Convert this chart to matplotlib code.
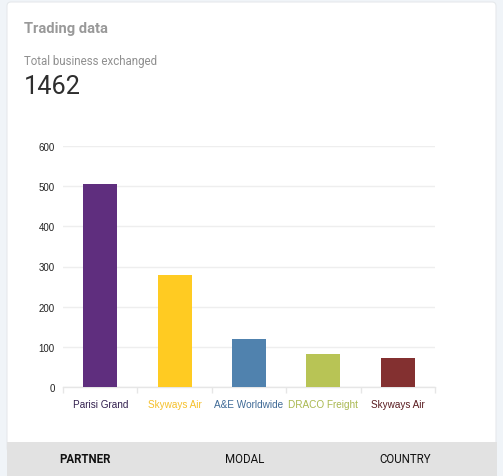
import matplotlib
matplotlib.use('Agg')
import matplotlib.pyplot as plt
from matplotlib.patches import FancyBboxPatch, Rectangle

plt.rcParams['font.family'] = ['Roboto', 'DejaVu Sans']

W, H = 503, 477

# data
partners = ['Parisi Grand', 'Skyways Air', 'A&E Worldwide', 'DRACO Freight', 'Skyways Air']
trades = [505, 280, 120, 83, 71]
bar_colors = ['#5f2e7e', '#ffcb22', '#5082ae', '#b8c455', '#833030']
label_colors = ['#33204f', '#f5c02a', '#3f6a96', '#a9b84f', '#5a1c20']
yticks = [0, 100, 200, 300, 400, 500, 600]
tabs = ['PARTNER', 'MODAL', 'COUNTRY']
tab_x = [85, 245, 405]

fig = plt.figure(figsize=(W / 100, H / 100), dpi=100, facecolor='#f0f4f8')

# page layer in pixel coords
bg = fig.add_axes([0, 0, 1, 1])
bg.set_xlim(0, W)
bg.set_ylim(H, 0)
bg.axis('off')

card = FancyBboxPatch((7, 3), 489, 450, boxstyle='round,pad=0,rounding_size=4',
                      facecolor='white', edgecolor='#e6e9ec', linewidth=0.8)
bg.add_patch(card)
bg.add_patch(Rectangle((7, 443), 490, 34, facecolor='#e2e2e2', edgecolor='none'))

bg.text(24, 28.5, 'Trading data', fontsize=10.6, fontweight='bold', color='#999999', va='center')
bg.text(24, 61, 'Total business exchanged', fontsize=8.3, color='#8f8f8f', va='center')
bg.text(24, 87, '1462', fontsize=18.2, color='#2e2e2e', va='center')

for name, x, weight in zip(tabs, tab_x, ['bold', 'normal', 'normal']):
    bg.text(x, 460, name, fontsize=8.3, fontweight=weight, color='#111111', ha='center', va='center')

# chart
left, right, top, bottom = 63, 435, 147, 388
ax = fig.add_axes([left / W, 1 - bottom / H, (right - left) / W, (bottom - top) / H])
ax.patch.set_alpha(0)
pos = list(range(len(partners)))
ax.bar(pos, trades, width=0.455, color=bar_colors, zorder=3)
ax.set_xlim(-0.5, 4.5)
ax.set_ylim(0, 600)

ax.set_yticks(yticks)
ax.tick_params(axis='y', length=0, pad=6, labelsize=7, labelcolor='#222222')
for lab in ax.get_yticklabels():
    lab.set_family(['Liberation Sans'])
ax.grid(axis='y', color='#eeeeee', linewidth=1, zorder=0)

ax.set_xticks([-0.5, 0.5, 1.5, 2.5, 3.5, 4.5])
ax.set_xticklabels([])
ax.tick_params(axis='x', length=4, width=1, color='#e6e6e6')
ax.set_xticks(pos, minor=True)
ax.set_xticklabels(partners, minor=True, fontsize=7.2, family=['Liberation Sans'])
ax.tick_params(axis='x', which='minor', length=0, pad=9)
for lab, c in zip(ax.get_xticklabels(minor=True), label_colors):
    lab.set_color(c)

for side in ['top', 'right', 'left']:
    ax.spines[side].set_visible(False)
ax.spines['bottom'].set_color('#e6e6e6')
ax.spines['bottom'].set_linewidth(1)

fig.savefig('out.png', dpi=100, facecolor=fig.get_facecolor())
